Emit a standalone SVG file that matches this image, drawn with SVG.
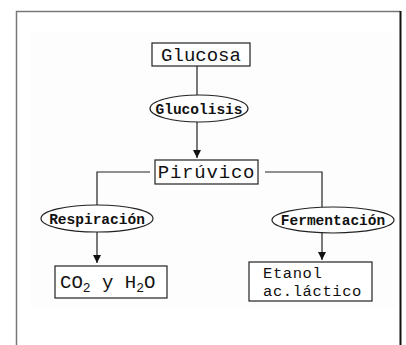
<svg xmlns="http://www.w3.org/2000/svg" width="406" height="345" viewBox="0 0 406 345">
<defs>
<style>
.box{fill:#fff;stroke:#222;stroke-width:1.2}
.ell{fill:#fff;stroke:#222;stroke-width:1.2}
.t{font-family:"Liberation Mono","DejaVu Sans Mono",monospace;fill:#111}
.b{font-family:"Liberation Mono","DejaVu Sans Mono",monospace;font-weight:bold;fill:#111;font-size:14.5px}
.ln{fill:none;stroke:#222;stroke-width:1.2}
</style>
<marker id="ah" viewBox="0 0 10 10" refX="10" refY="5" markerWidth="8" markerHeight="8" markerUnits="userSpaceOnUse" orient="auto">
<path d="M0,0 L10,5 L0,10 z" fill="#111"/>
</marker>
</defs>
<rect width="406" height="345" fill="#fff"/>
<rect x="30" y="33" width="366" height="275" fill="#fdfdfd"/>
<g id="frame">
<path d="M16.5,345 V11.5 H400" fill="none" stroke="#777" stroke-width="1.5"/>
<path d="M400.5,11 V345" fill="none" stroke="#111" stroke-width="2"/>
</g>
<g id="connectors">
<path class="ln" d="M197,66 V95"/>
<path class="ln" d="M197,122 V158" marker-end="url(#ah)"/>
<path class="ln" d="M150,172 H97 V205"/>
<path class="ln" d="M265,172 H322 V207"/>
<path class="ln" d="M97,232 V263" marker-end="url(#ah)"/>
<path class="ln" d="M322,233 V260" marker-end="url(#ah)"/>
</g>
<g id="glucosa">
<rect class="box" x="152" y="43" width="98" height="23"/>
<text class="t" x="201" y="61" font-size="19" text-anchor="middle">Glucosa</text>
</g>
<g id="glucolisis">
<ellipse class="ell" cx="199" cy="108.5" rx="49" ry="13.5"/>
<text class="b" x="199" y="113.5" text-anchor="middle">Glucolisis</text>
</g>
<g id="piruvico">
<rect class="box" x="155" y="160" width="103" height="24"/>
<text class="t" x="206.5" y="178" font-size="19" text-anchor="middle" letter-spacing="0.8">Pirúvico</text>
</g>
<g id="respiracion">
<ellipse class="ell" cx="97" cy="218.5" rx="56" ry="13.5"/>
<text class="b" x="97" y="223.5" text-anchor="middle">Respiración</text>
</g>
<g id="fermentacion">
<ellipse class="ell" cx="333" cy="220" rx="61" ry="13"/>
<text class="b" x="333" y="225" text-anchor="middle">Fermentación</text>
</g>
<g id="co2h2o">
<rect class="box" x="55" y="266" width="112" height="32"/>
<text class="t" x="60" y="288" font-size="19">CO<tspan font-size="13" dy="4">2</tspan><tspan dy="-4"> y H</tspan><tspan font-size="13" dy="4">2</tspan><tspan dy="-4">O</tspan></text>
</g>
<g id="etanol">
<rect class="box" x="249" y="262" width="123" height="39"/>
<text class="t" x="263" y="277.5" font-size="15.5" letter-spacing="0.6">Etanol</text>
<text class="t" x="263" y="295.5" font-size="15.5" letter-spacing="0.6">ac.láctico</text>
</g>
</svg>
